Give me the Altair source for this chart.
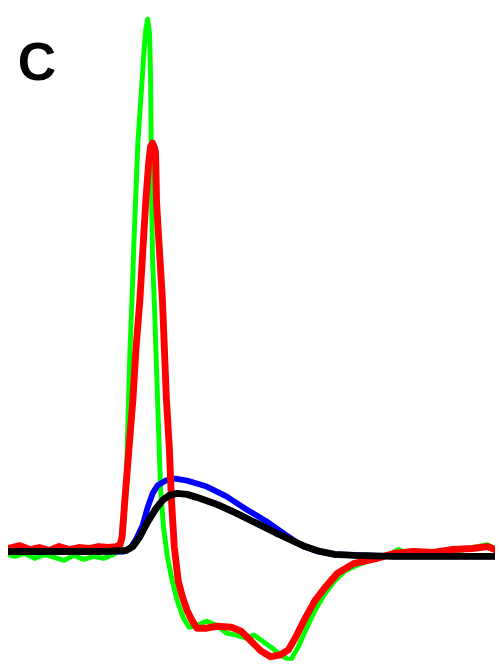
import altair as alt
import pandas as pd

# Values (x in time units, y readings; amplitude = 555 - reading)
green_x = [8, 15, 25, 35, 45, 55, 65, 75, 85, 95, 105, 115, 120, 123, 126, 128, 130, 132, 134, 136, 138, 140, 142, 144, 146, 148, 150, 152, 153, 153.5, 154, 155, 157, 159, 161, 163, 166, 170, 175, 180, 186, 192, 200, 210, 220, 230, 240, 250, 258, 265, 275, 285, 295, 303, 310, 320, 330, 340, 350, 365, 380, 395, 405, 420, 435, 450, 465, 480, 495, 503]
green_r = [558, 560, 557, 562, 558, 561, 564, 559, 563, 560, 562, 558, 555, 540, 510, 490, 420, 350, 300, 240, 190, 140, 110, 80, 50, 25, 14, 30, 80, 140, 200, 260, 310, 370, 430, 490, 530, 560, 585, 605, 622, 632, 630, 626, 630, 638, 640, 643, 640, 645, 652, 660, 666, 652, 636, 615, 598, 585, 575, 568, 563, 558, 553, 560, 556, 558, 555, 551, 548, 552]

red_x = [8, 20, 30, 40, 50, 60, 70, 80, 90, 100, 110, 118, 122, 124, 127, 131, 135, 138, 142, 145, 148, 151, 153, 155, 157, 158, 159, 162, 165, 167, 169, 172, 174, 177, 181, 185, 190, 195, 200, 210, 220, 235, 245, 255, 265, 275, 285, 293, 300, 310, 320, 330, 343, 360, 383, 400, 420, 440, 460, 480, 495, 503]
red_r = [552, 549, 553, 551, 554, 550, 553, 551, 552, 550, 551, 550, 548, 540, 500, 450, 400, 350, 300, 250, 200, 160, 143, 140, 145, 150, 200, 250, 300, 350, 400, 450, 500, 550, 585, 600, 615, 625, 633, 633, 631, 632, 636, 646, 656, 662, 660, 655, 643, 623, 605, 592, 577, 567, 562, 557, 555, 556, 553, 552, 550, 553]

blue_x = [8, 125, 132, 138, 145, 150, 155, 160, 168, 178, 190, 210, 230, 250, 270, 290, 305, 320, 340, 400, 503]
blue_r = [555, 555, 552, 543, 528, 510, 496, 488, 483, 481, 483, 489, 499, 512, 524, 538, 548, 554, 558, 560, 560]

black_x = [8, 100, 128, 135, 142, 150, 158, 165, 172, 180, 190, 200, 220, 240, 260, 280, 295, 310, 325, 340, 360, 400, 450, 503]
black_r = [555, 555, 554, 550, 540, 525, 512, 503, 498, 496, 497, 500, 507, 516, 526, 536, 543, 550, 555, 558, 559, 560, 560, 560]

series = ["green", "blue", "red", "black"]
colors = ["#00ff00", "#0000ff", "#ff0000", "#000000"]
widths = [5, 6, 7, 7]
xs = {"green": green_x, "blue": blue_x, "red": red_x, "black": black_x}
rs = {"green": green_r, "blue": blue_r, "red": red_r, "black": black_r}

rows = []
for s in series:
    for i, (x, r) in enumerate(zip(xs[s], rs[s])):
        rows.append({"series": s, "t": x, "amp": 555 - r, "i": i})
df = pd.DataFrame(rows)

xscale = alt.Scale(domain=[8, 503], nice=False, zero=False)
yscale = alt.Scale(domain=[-111, 547], nice=False, zero=False)

layers = []
for s, c, w in zip(series, colors, widths):
    layers.append(
        alt.Chart(df)
        .transform_filter(alt.datum.series == s)
        .mark_line(color=c, strokeWidth=w, strokeCap="round", strokeJoin="round", clip=True)
        .encode(
            x=alt.X("t:Q", scale=xscale, axis=None),
            y=alt.Y("amp:Q", scale=yscale, axis=None),
            order="i:Q",
        )
    )

label = alt.Chart(pd.DataFrame({"txt": ["C"]})).mark_text(
    font="Liberation Sans", fontWeight="bold", fontSize=54, align="center", baseline="alphabetic", color="black"
).encode(text="txt:N", x=alt.value(29.5), y=alt.value(68))

chart = alt.layer(*layers, label).properties(
    width=495, height=658, padding=0
).configure_view(stroke=None)

chart.save("out.html", embed_options={"renderer": "svg", "actions": False})
